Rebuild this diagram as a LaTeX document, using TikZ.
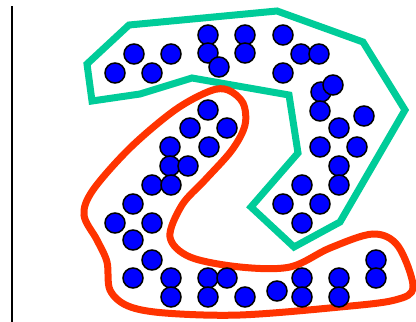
\documentclass[tikz,border=0pt]{standalone}
\begin{document}
\begin{tikzpicture}[x=1pt,y=-1pt,
  dot/.style={circle,draw=black,fill=dotblue,line width=1.5pt,minimum size=20pt,inner sep=0pt},
  tealline/.style={draw=tealc,line width=7pt,line join=miter},
  redline/.style={draw=redc,line width=7pt}]
\definecolor{dotblue}{RGB}{0,0,255}
\definecolor{tealc}{RGB}{0,204,153}
\definecolor{redc}{RGB}{255,51,0}
\useasboundingbox (0,0) rectangle (416,322);
\coordinate (ltop) at (12,6);
\coordinate (lbot) at (12,322);
\draw[line width=2pt] (ltop) -- (lbot);
% teal polygon
\draw[tealline] (192,78) -- (289,95) -- (298,153) -- (251,207) -- (294,247) -- (340,222) -- (405,110) -- (363,42) -- (277,11) -- (129,25) -- (87,64) -- (92,101) -- (140,94) -- cycle;
% red closed curve
\draw[redline] plot[smooth cycle,tension=0.55] coordinates {
 (228,90) (243,103) (245,125) (232,150) (205,180) (182,205) (170,237) (190,257)
 (240,267) (290,267) (330,248) (373,234) (398,246) (413,287) (395,300) (340,307)
 (240,315) (165,313) (128,306) (110,290) (107,262) (97,240) (84,215) (93,190)
 (130,148) (175,110) (210,91)};
% dots
\foreach \n/\x/\y in {
 a1/115/73, a2/134/54, a3/152/73, a4/171/54, a5/208/35, a6/208/53, a7/219/67,
 a8/245/35, a9/245/53, a10/283/35, a11/283/73, a12/301/54, a13/319/54,
 b1/321/92, b2/333/85, b3/320/111, b4/364/116, b5/339/128, b6/320/147, b7/357/147,
 b8/339/166, b9/339/185, b10/302/185, b11/283/204, b12/320/204, b13/302/223,
 c1/208/110, c2/190/128, c3/170/147, c4/227/128, c5/209/147, c6/170/166, c7/188/166,
 c8/152/185, c9/171/185, c10/133/204, c11/115/223, c12/152/223, c13/133/240,
 c14/152/260, c15/133/278, c16/171/278, c17/171/297, c18/208/278, c19/208/297,
 c20/227/278, c21/245/297, c22/277/291, c23/302/278, c24/302/297, c25/339/278,
 c26/339/297, c27/376/260, c28/376/278}
 \node[dot] (\n) at (\x,\y) {};
\end{tikzpicture}
\end{document}
